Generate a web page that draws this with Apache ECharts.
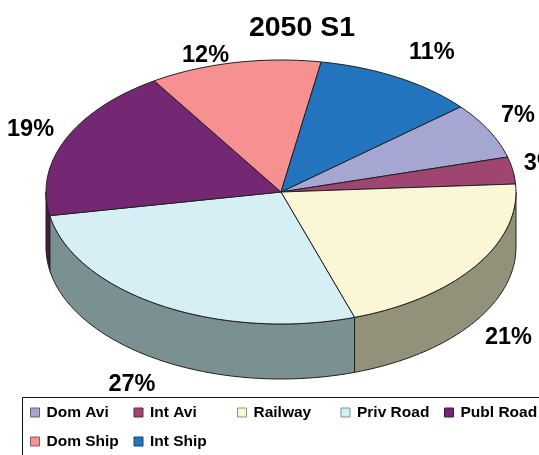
<!DOCTYPE html>
<html>
<head>
<meta charset="utf-8">
<style>html,body{margin:0;padding:0;background:#fff}#c{width:539px;height:455px}</style>
<script src="https://cdn.jsdelivr.net/npm/echarts@6/dist/echarts.min.js"></script>
</head>
<body>
<div id="c"></div>
<script>
const categories = ['Dom Avi', 'Int Avi', 'Railway', 'Priv Road', 'Publ Road', 'Dom Ship', 'Int Ship'];
const shares = [6.9, 3.3, 20.9, 27.2, 18.8, 11.8, 11.1];
const topColors = ['#A6A6D3', '#A04572', '#FBF7D6', '#D6EFF4', '#742873', '#F79191', '#2174BD'];
const wallColors = ['#62627E', '#602A44', '#93917A', '#7B9090', '#451848', '#945656', '#144570'];

// 3D pie projection
const CX = 281, CY = 192, RX = 235, RY = 132, DEPTH = 55, START = 49.8;
const LABEL_FONT = 'bold 23.5px "Liberation Sans", Arial, sans-serif';
const labelNudge = [[29, -15], [28, -7], [33, 71], [-29, 79], [-35, -10], [-29, -7], [34, -25]];

const total = shares.reduce((a, b) => a + b, 0);
const rim = (deg, dy) => {
  const r = deg * Math.PI / 180;
  return [CX + RX * Math.sin(r), CY - RY * Math.cos(r) + (dy || 0)];
};
const arc = (a, b, dy) => {
  const n = Math.max(2, Math.ceil(Math.abs(b - a) / 2));
  const out = [];
  for (let i = 0; i <= n; i++) out.push(rim(a + (b - a) * i / n, dy));
  return out;
};

const angleStart = [];
shares.reduce((acc, v, i) => { angleStart[i] = acc; return acc + v / total * 360; }, START);

function makeRender(i) {
  return function (params, api) {
    const sweep = api.value(0) / total * 360;
    const a = angleStart[i], b = a + sweep;
    const children = [];
    // front wall: the part of the slice between 90 and 270 degrees
    const wa = Math.max(a, 90), wb = Math.min(b, 270);
    if (wb > wa) {
      children.push({
        type: 'polygon',
        shape: { points: arc(wa, wb, 0).concat(arc(wb, wa, DEPTH)) },
        style: { fill: wallColors[i], stroke: '#222', lineWidth: 1 }
      });
    }
    children.push({
      type: 'polygon',
      shape: { points: [[CX, CY]].concat(arc(a, b, 0)) },
      style: { fill: topColors[i], stroke: '#222', lineWidth: 1 }
    });
    const m = rim((a + b) / 2, 0);
    children.push({
      type: 'text',
      z2: 10,
      style: {
        x: m[0] + labelNudge[i][0],
        y: m[1] + labelNudge[i][1],
        text: Math.round(api.value(0) / total * 100) + '%',
        font: LABEL_FONT,
        fill: '#000',
        align: 'center',
        verticalAlign: 'middle'
      }
    });
    return { type: 'group', children };
  };
}

const chart = echarts.init(document.getElementById('c'), null, { renderer: 'canvas' });
chart.setOption({
  animation: false,
  backgroundColor: '#fff',
  tooltip: { show: false },
  title: {
    text: '2050 S1',
    left: 297,
    top: 9,
    textAlign: 'center',
    textStyle: { fontFamily: '"Liberation Sans", Arial, sans-serif', fontWeight: 'bold', fontSize: 28.5, color: '#000' }
  },
  graphic: [{
    type: 'rect',
    silent: true,
    shape: { x: 22.5, y: 397.5, width: 540, height: 80 },
    style: { fill: '#fff', stroke: '#111', lineWidth: 1 },
    z: 1
  }],
  legend: {
    left: 30,
    top: 398,
    width: 525,
    padding: 0,
    itemGap: 0,
    itemWidth: 9,
    itemHeight: 9,
    icon: 'rect',
    selectedMode: false,
    z: 5,
    data: categories.map((name, i) => ({ name, itemStyle: { color: topColors[i], borderColor: wallColors[i], borderWidth: 1 } })),
    textStyle: {
      fontFamily: '"Liberation Sans", Arial, sans-serif',
      fontWeight: 'bold',
      fontSize: 15.5,
      color: '#000',
      width: 87,
      height: 29,
      lineHeight: 29,
      padding: [0, 0, 0, 2],
      overflow: 'none'
    }
  },
  series: categories.map((name, i) => ({
    type: 'custom',
    name,
    coordinateSystem: 'none',
    silent: true,
    itemStyle: { color: topColors[i] },
    data: [[shares[i]]],
    renderItem: makeRender(i)
  }))
});
</script>
</body>
</html>
